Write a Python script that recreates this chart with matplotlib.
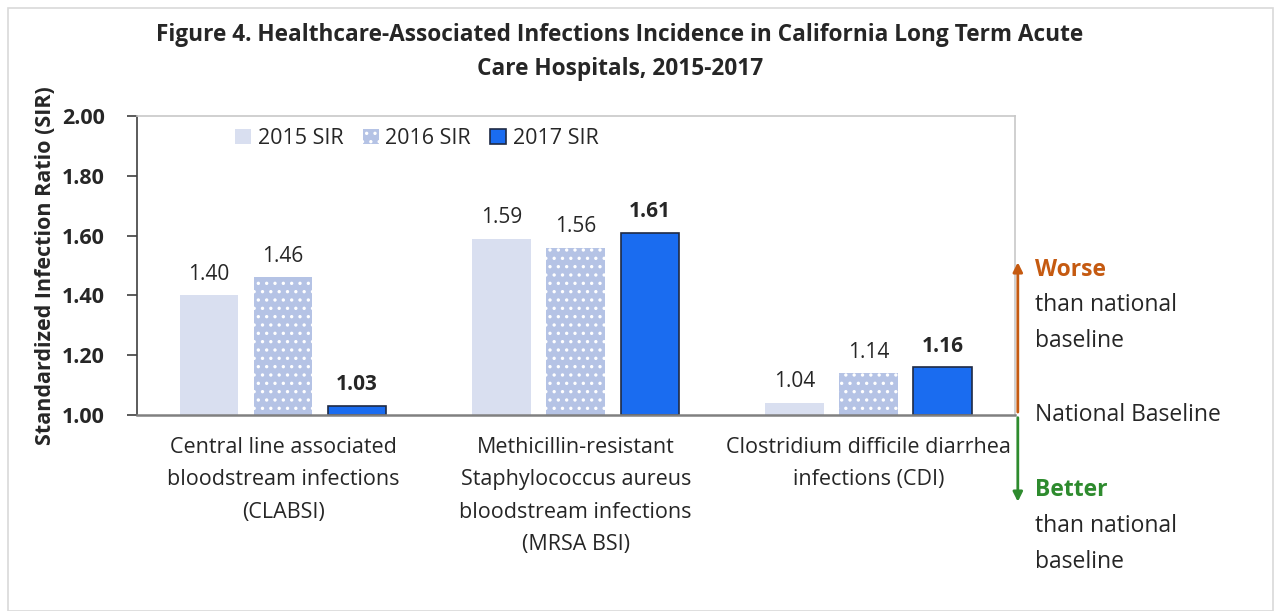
import numpy as np
import matplotlib.pyplot as plt
from matplotlib.patches import Rectangle

plt.rcParams['font.family'] = ['Open Sans', 'DejaVu Sans']
plt.rcParams['hatch.linewidth'] = 1.2

# data
categories = ['Central line associated\nbloodstream infections\n(CLABSI)',
              'Methicillin-resistant\nStaphylococcus aureus\nbloodstream infections\n(MRSA BSI)',
              'Clostridium difficile diarrhea\ninfections (CDI)']
series = ['2015 SIR', '2016 SIR', '2017 SIR']
sir_2015 = [1.40, 1.59, 1.04]
sir_2016 = [1.46, 1.56, 1.14]
sir_2017 = [1.03, 1.61, 1.16]
yticks = [1.00, 1.20, 1.40, 1.60, 1.80, 2.00]
baseline = 1.0

fig = plt.figure(figsize=(12.78, 6.11), dpi=100)
fig.patches.append(Rectangle((0.006, 0.0), 0.99, 0.987, transform=fig.transFigure,
                             fill=False, edgecolor='#d9d9d9', linewidth=1.2))
ax = fig.add_axes([0.107, 0.321, 0.687, 0.489])

x = np.arange(len(categories))
w = 0.2
step = 0.253
styles = [
    dict(color='#d9dff0', edgecolor='#d9dff0', linewidth=0),
    dict(color='#b5c3e5', edgecolor='white', linewidth=0, hatch='..'),
    dict(color='#1a6cf0', edgecolor='#1f2a44', linewidth=1.2),
]
for i, (name, vals) in enumerate(zip(series, [sir_2015, sir_2016, sir_2017])):
    h = [v - baseline for v in vals]
    ax.bar(x + (i - 1) * step, h, w, bottom=baseline, label=name, **styles[i])
    for xi, v in zip(x + (i - 1) * step, vals):
        ax.text(xi, v + 0.035, '%.2f' % v, ha='center', va='bottom', fontsize=15,
                fontweight='bold' if i == 2 else 'normal', color='#262626')

ax.set_xlim(-0.5, 2.5)
ax.set_ylim(1.0, 2.0)
ax.set_yticks(yticks)
ax.set_yticklabels(['%.2f' % t for t in yticks], fontsize=15.5, fontweight='bold', color='#262626')
ax.tick_params(axis='y', direction='out', length=7, width=1.2, color='#404040', pad=16)
ax.set_xticks([])
for s in ['top', 'right']:
    ax.spines[s].set_color('#c8c8c8')
    ax.spines[s].set_linewidth(1.2)
ax.spines['left'].set_color('#404040')
ax.spines['left'].set_linewidth(1.2)
ax.spines['bottom'].set_color('#808080')
ax.spines['bottom'].set_linewidth(1.8)
ax.set_ylabel('Standardized Infection Ratio (SIR)', fontsize=15.5, fontweight='bold',
              color='#262626', labelpad=4)

for xi, c in zip(x, categories):
    ax.text(xi, -0.075, c, transform=ax.get_xaxis_transform(), ha='center', va='top',
            fontsize=15.5, color='#262626', linespacing=1.7)

leg = ax.legend(loc='upper left', bbox_to_anchor=(0.09, 1.025), ncol=3, frameon=False,
                fontsize=15.5, handlelength=0.75, handleheight=0.75, handletextpad=0.3,
                columnspacing=0.9)
for t in leg.get_texts():
    t.set_color('#262626')

fig.text(0.485, 0.915, 'Figure 4. Healthcare-Associated Infections Incidence in California Long Term Acute\nCare Hospitals, 2015-2017',
         ha='center', va='center', fontsize=16.3, fontweight='bold', color='#262626', linespacing=1.6)

# worse / better arrows at the right of the plot area
ax.annotate('', xy=(1.0035, 1.52), xytext=(1.0035, baseline), xycoords=('axes fraction', 'data'),
            arrowprops=dict(arrowstyle='-|>', color='#c55a11', lw=2, mutation_scale=14),
            annotation_clip=False)
ax.annotate('', xy=(1.0035, 0.70), xytext=(1.0035, baseline), xycoords=('axes fraction', 'data'),
            arrowprops=dict(arrowstyle='-|>', color='#2e8b2e', lw=2, mutation_scale=14),
            annotation_clip=False)
tx = 1035 / 1278
fs = 16.5
fig.text(tx, 1 - 270 / 611, 'Worse', fontsize=fs, fontweight='bold', color='#c55a11', va='center')
fig.text(tx, 1 - 323 / 611, 'than national\nbaseline', fontsize=fs, color='#262626', va='center', linespacing=1.65)
fig.text(tx, 1 - 415 / 611, 'National Baseline', fontsize=fs, color='#262626', va='center')
fig.text(tx, 1 - 490 / 611, 'Better', fontsize=fs, fontweight='bold', color='#2e8b2e', va='center')
fig.text(tx, 1 - 544 / 611, 'than national\nbaseline', fontsize=fs, color='#262626', va='center', linespacing=1.65)

fig.savefig('out.png', dpi=100)
